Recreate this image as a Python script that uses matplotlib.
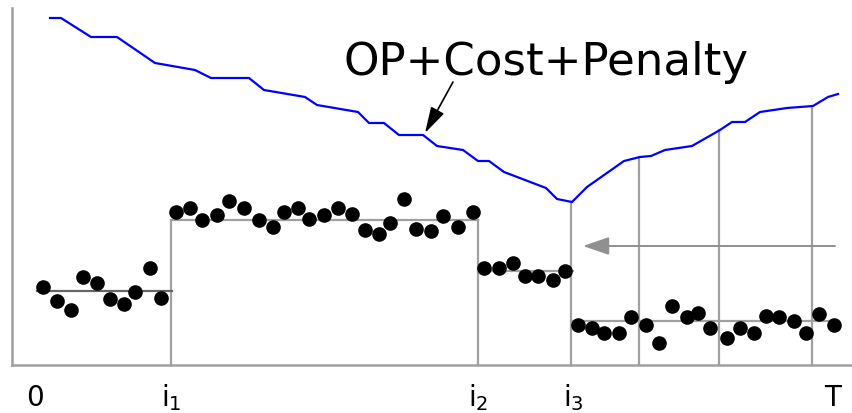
import matplotlib
matplotlib.use('Agg')
import matplotlib.pyplot as plt

# values: x in pixels, h = height above the baseline
cost_x = [50, 61, 91, 117, 155, 195, 211, 249, 264, 305, 317, 358, 369, 384, 399, 423,
          437, 463, 478, 489, 504, 546, 557, 572, 587, 624, 640, 651, 665, 692, 720, 732,
          745, 760, 787, 813, 828, 838]
cost_h = [347, 347, 328, 328, 302, 295, 287, 287, 275, 268, 260, 253, 242, 242, 230, 230,
          219, 215, 204, 204, 193, 177, 166, 163, 178, 204, 208, 209, 215, 219, 235, 243,
          243, 253, 257, 259, 268, 271]

pts_x = [43, 57, 71, 83, 97, 110, 124, 135, 150, 161,
         176, 190, 202, 217, 229, 244, 259, 273, 284, 298, 309, 324, 338, 352, 365, 379,
         390, 404, 416, 431, 443, 458, 473,
         484, 499, 513, 525, 538, 553, 565,
         578, 592, 604, 619, 631, 646, 659, 672, 687, 698, 710, 727, 740, 754, 766, 779,
         794, 806, 819, 834]
pts_h = [78, 64, 55, 88, 82, 66, 61, 73, 97, 67,
         153, 157, 145, 150, 164, 157, 145, 138, 153, 157, 146, 150, 157, 151, 135, 131,
         142, 166, 136, 134, 149, 138, 153,
         97, 97, 102, 89, 89, 85, 94,
         40, 37, 32, 32, 48, 40, 22, 59, 48, 52, 37, 27, 37, 32, 49, 48,
         44, 32, 51, 40]

# segments: start, end, mean level
seg_start = [37, 171, 478, 571]
seg_end = [172, 478, 573, 835]
seg_mean = [74, 145, 94, 44]

# candidate change points checked (x, top of line)
cand_x = [639, 719, 812]
cand_top = [208, 235, 259]

tick_x = [35, 171, 478, 573, 833]
tick_lab = ['0', r'i$_\mathregular{1}$', r'i$_\mathregular{2}$', r'i$_\mathregular{3}$', 'T']

fig = plt.figure(figsize=(8.52, 4.13), dpi=100)
ax = fig.add_axes([0, 0, 1, 1])
ax.set_xlim(0, 852)
ax.set_ylim(-48, 365)
ax.axis('off')

grey = '#a0a0a0'
# axes lines
ax.plot([12, 12], [0, 357], color=grey, lw=1.8)
ax.plot([12, 852], [0, 0], color=grey, lw=1.8)

# change points
ax.plot([171, 171], [0, seg_mean[1]], color=grey, lw=1.6)
ax.plot([478, 478], [0, seg_mean[1]], color=grey, lw=1.6)
ax.plot([571, 571], [0, min(cost_h)], color=grey, lw=1.6)
for x, top in zip(cand_x, cand_top):
    ax.plot([x, x], [0, top], color=grey, lw=1.6)

# segment means
for i, (a, b, m) in enumerate(zip(seg_start, seg_end, seg_mean)):
    ax.plot([a, b], [m, m], color='#666666' if i == 0 else grey, lw=1.6)

# backwards arrow
ax.annotate('', xy=(583, 119), xytext=(835, 119),
            arrowprops=dict(arrowstyle='-|>,head_length=1.6,head_width=0.55',
                            color='#909090', lw=1.4, shrinkA=0, shrinkB=0))

ax.plot(cost_x, cost_h, color='#0000ff', lw=1.6)
ax.plot(pts_x, pts_h, 'o', color='black', markersize=9.5, zorder=5)

ax.text(546, 303, 'OP+Cost+Penalty', ha='center', va='center', fontsize=32.5)
ax.annotate('', xy=(425, 232), xytext=(453, 283),
            arrowprops=dict(arrowstyle='-|>,head_length=1.6,head_width=0.45',
                            color='black', lw=1.2, shrinkA=0, shrinkB=0))

for x, lab in zip(tick_x, tick_lab):
    ax.text(x, -33, lab, ha='center', va='center', fontsize=20)

fig.savefig('out.png', dpi=100)
